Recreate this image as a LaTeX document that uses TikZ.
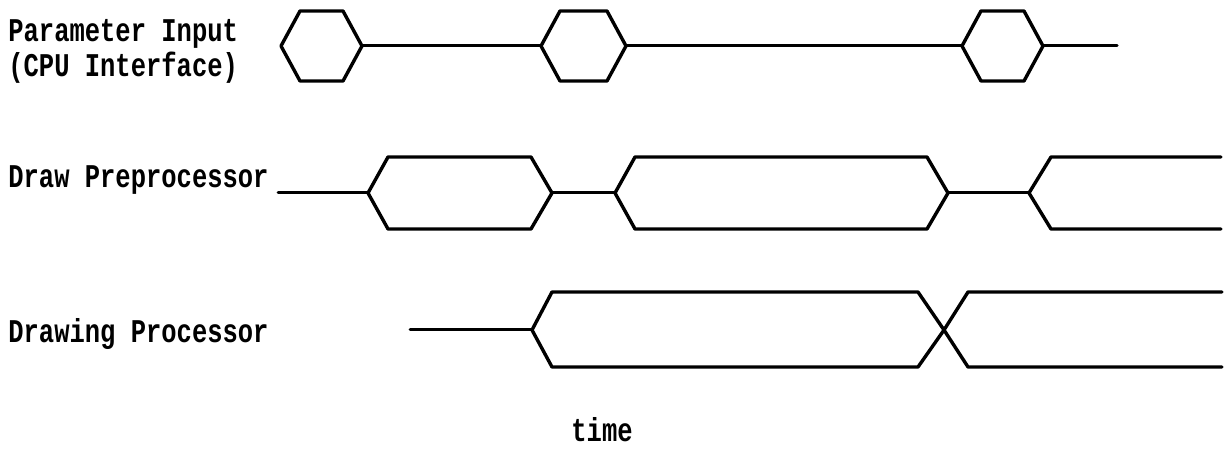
\documentclass[tikz,border=0pt]{standalone}
\usepackage{fontspec}
\setmonofont{Liberation Mono}
\usepackage{tikz}

% tall typewriter lettering
\newcommand\tallrow[1]{\scalebox{1}[1.3]{#1}}

\begin{document}
\begin{tikzpicture}[x=0.5pt,y=-0.5pt,line join=round,line cap=round,
  sig/.style={line width=1.5pt},
  bus/.style={line width=1.7pt},
  lbl/.style={font=\ttfamily\bfseries\fontsize{12.75}{17.5}\selectfont,inner sep=0pt,anchor=base west,align=left}]
\useasboundingbox (0,0) rectangle (1225,459);
% signal names
\node[lbl] (param) at (8,77) {\tallrow{Parameter Input}\\\tallrow{(CPU Interface)}};
\node[lbl] (pre) at (8,188) {\tallrow{Draw Preprocessor}};
\node[lbl] (proc) at (8,343) {\tallrow{Drawing Processor}};
\node[lbl] (time) at (571,441) {\tallrow{time}};
% parameter input: short hexagon pulses joined by idle lines
\foreach \l/\r in {281/362,541/626,962/1043} {
  \draw[bus] (\l,46) -- (\l+19,11) -- (\r-19,11) -- (\r,46) -- (\r-19,81) -- (\l+19,81) -- cycle;
}
\draw[sig] (362,46) -- (541,46) (626,46) -- (962,46) (1043,46) -- (1117,46);
% draw preprocessor
\draw[sig] (278,193) -- (368,193) (552,193) -- (615,193) (948,193) -- (1029,193);
\foreach \l/\r in {368/552,615/948} {
  \draw[bus] (\l,193) -- (\l+20,157) -- (\r-21,157) -- (\r,193) -- (\r-21,229) -- (\l+20,229) -- cycle;
}
\draw[bus] (1221,157) -- (1051,157) -- (1029,193) -- (1051,229) -- (1221,229);
% drawing processor
\draw[sig] (410,330) -- (532,330);
\draw[bus] (532,330) -- (552,292) -- (918,292) -- (944,330) -- (968,367) -- (1222,367);
\draw[bus] (532,330) -- (552,367) -- (918,367) -- (944,330) -- (968,292) -- (1222,292);
\end{tikzpicture}
\end{document}
